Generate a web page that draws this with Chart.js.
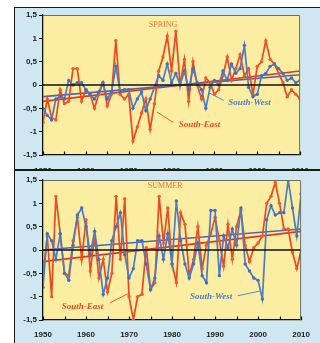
<!DOCTYPE html>
<html>
<head>
<meta charset="utf-8">
<script src="https://cdn.jsdelivr.net/npm/chart.js@4.4.1/dist/chart.umd.min.js"></script>
<style>
  body { margin: 0; background: #fff; width: 320px; height: 343px; overflow: hidden; position: relative; }
  #frame { position: absolute; left: 14px; top: 7px; width: 330px; height: 350px; background: #cfe7f1;
           border-left: 1.5px solid #1a1a1a; border-top: 1.5px solid #1a1a1a; }
  #sep { position: absolute; left: 14px; top: 169px; width: 310px; height: 1.5px; background: #1a1a1a; }
  canvas { position: absolute; left: 0; }
</style>
</head>
<body>
<div id="frame"></div>
<canvas id="spring" width="320" height="169" style="top:0"></canvas>
<div id="sep"></div>
<canvas id="summer" width="320" height="173" style="top:170px"></canvas>
<script>
  const years = [
    1950, 1951, 1952, 1953, 1954, 1955, 1956, 1957, 1958, 1959,
    1960, 1961, 1962, 1963, 1964, 1965, 1966, 1967, 1968, 1969,
    1970, 1971, 1972, 1973, 1974, 1975, 1976, 1977, 1978, 1979,
    1980, 1981, 1982, 1983, 1984, 1985, 1986, 1987, 1988, 1989,
    1990, 1991, 1992, 1993, 1994, 1995, 1996, 1997, 1998, 1999,
    2000, 2001, 2002, 2003, 2004, 2005, 2006, 2007, 2008, 2009,
    2010
  ];
  const decadeTicks = [1950, 1960, 1970, 1980, 1990, 2000, 2010];
  const minorTicks = [1950, 1955, 1960, 1965, 1970, 1975, 1980, 1985, 1990, 1995, 2000, 2005, 2010];
  const valueTicks = [-1.5, -1, -0.5, 0, 0.5, 1, 1.5];
  const trendYears = [1950, 2010];

  // spring anomalies
  const springSouthEast = [
    -0.8, -0.3, -0.7, -0.75, -0.1, -0.4, -0.35, 0.35, 0.35, -0.35,
    -0.1, -0.2, -0.5, -0.2, 0.05, -0.45, -0.2, 0.95, -0.2, -0.3,
    -0.2, -1.2, -0.9, -0.6, -0.3, -0.95, -0.4, 0.3, 0.6, 1.05,
    0.3, 1.15, 0.0, 0.55, -0.35, 0.5, 0.0, -0.3, 0.15, 0.05,
    -0.2, -0.1, 0.2, 0.6, 0.1, 0.35, 0.65, 0.2, 0.35, -0.2,
    0.4, 0.5, 0.95, 0.55, 0.45, 0.25, 0.05, -0.25, -0.1, -0.2,
    -0.3
  ];
  const springSouthWest = [
    -0.5, -0.65, -0.75, -0.3, -0.25, -0.3, 0.1, 0.0, 0.05, 0.05,
    -0.1, -0.2, -0.3, -0.15, 0.05, -0.3, -0.15, 0.4, -0.15, -0.1,
    -0.1, -0.5, -0.3, -0.15, -0.55, -0.3, -0.05, 0.2, 0.1, 0.45,
    0.05, 0.25, 0.0, 0.3, -0.1, 0.35, 0.05, -0.1, -0.5, -0.05,
    0.1, 0.0, 0.3, 0.1, 0.45, 0.25, 0.35, 0.85, -0.05, -0.25,
    -0.2, 0.2, 0.25, 0.4, 0.45, 0.35, 0.25, 0.1, 0.15, 0.05,
    0.1
  ];
  const springTrendSouthEast = [-0.35, 0.3];
  const springTrendSouthWest = [-0.25, 0.22];

  // summer anomalies
  const summerSouthEast = [
    -0.5, 0.3, -1.0, 1.15, 0.35, -0.5, -0.55, 0.2, 0.7, -0.2,
    0.65, -0.45, 0.3, -0.6, -0.2, -0.9, -0.5, 1.15, -0.2, 1.1,
    -1.0, -1.5, -1.0, -0.95, 0.05, -0.85, -0.7, 1.15, 0.15, 0.9,
    -0.3, -0.7, 0.8, 0.55, -0.55, -0.2, 0.5, -0.4, 0.1, 0.35,
    0.7, 0.2, -0.35, 0.55, -0.2, 0.5, 0.85, 0.1, -0.25, 0.05,
    0.15, 0.3, 1.0, 1.15, 1.45, 1.0, 0.45, 0.45, -0.05, -0.4,
    0.0
  ];
  const summerSouthWest = [
    -0.8, 0.35, 0.2, -0.2, 0.35, -0.5, -0.65, 0.1, 0.75, 0.9,
    0.5, -0.1, 0.4, -0.2, -0.95, -0.6, 0.2, 0.5, 0.8, -0.1,
    -0.6, -0.4, 0.2, 0.2, -0.3, -0.85, -0.6, 0.3, -0.2, 0.35,
    -0.3, 1.05, 0.2, -0.3, -0.6, -0.3, 0.15, -0.55, -0.7, 0.85,
    0.85, -0.55, 0.3, 0.05, 0.45, 0.1, 0.9, -0.3, -0.45, -0.6,
    -0.65, -1.05, 0.65, 0.95, 0.75, 0.8, 0.8, 1.5, 0.9, 0.3,
    1.2
  ];
  const summerTrendSouthEast = [-0.25, 0.4];
  const summerTrendSouthWest = [0.0, 0.45];

  const RED = "#ee4820";
  const BLUE = "#4b7cc4";

  function points(xs, ys) {
    return xs.map((x, i) => ({ x: x, y: ys[i] }));
  }

  function seriesSet(se, sw, trendSe, trendSw) {
    return [
      { data: points(years, sw), borderColor: BLUE, backgroundColor: "#4470bb", borderWidth: 1.7, pointRadius: 1.7, pointBorderWidth: 0 },
      { data: points(years, se), borderColor: RED, backgroundColor: "#f25a28", borderWidth: 1.7, pointRadius: 1.7, pointBorderWidth: 0 },
      { data: points(trendYears, trendSw), borderColor: "#4a66b6", borderWidth: 1.6, pointRadius: 0 },
      { data: points(trendYears, trendSe), borderColor: "#e2361c", borderWidth: 1.6, pointRadius: 0 },
    ];
  }

  const panelDecor = {
    id: "panelDecor",
    beforeDraw(chart) {
      const a = chart.chartArea;
      const ctx = chart.ctx;
      ctx.save();
      ctx.fillStyle = "#fbeea2";
      ctx.fillRect(a.left, a.top, a.right - a.left, a.bottom - a.top);
      ctx.restore();
    },
    afterDatasetsDraw(chart) {
      const a = chart.chartArea;
      const ctx = chart.ctx;
      const x = chart.scales.x;
      const y = chart.scales.y;
      ctx.save();
      // zero line
      ctx.strokeStyle = "#111";
      ctx.lineWidth = 1.4;
      ctx.beginPath();
      ctx.moveTo(a.left, y.getPixelForValue(0));
      ctx.lineTo(a.right, y.getPixelForValue(0));
      ctx.stroke();
      // top and right frame
      ctx.strokeStyle = "#6d6d66";
      ctx.lineWidth = 1;
      ctx.beginPath();
      ctx.moveTo(a.left, a.top + 0.5);
      ctx.lineTo(a.right - 0.5, a.top + 0.5);
      ctx.lineTo(a.right - 0.5, a.bottom);
      ctx.stroke();
      // inward ticks on the time axis
      ctx.strokeStyle = "#111";
      ctx.lineWidth = 1.2;
      minorTicks.forEach((yr) => {
        const px = Math.round(x.getPixelForValue(yr)) + 0.5;
        ctx.beginPath();
        ctx.moveTo(px, a.bottom);
        ctx.lineTo(px, a.bottom - 3.5);
        ctx.stroke();
      });
      ctx.restore();
    },
    afterDraw(chart, args, opts) {
      const x = chart.scales.x;
      const y = chart.scales.y;
      const ctx = chart.ctx;
      ctx.save();
      ctx.textAlign = "center";
      ctx.textBaseline = "middle";
      (opts.notes || []).forEach((n) => {
        if (n.from) {
          ctx.strokeStyle = n.color;
          ctx.lineWidth = 0.9;
          ctx.beginPath();
          ctx.moveTo(x.getPixelForValue(n.from[0]), y.getPixelForValue(n.from[1]));
          ctx.lineTo(x.getPixelForValue(n.to[0]), y.getPixelForValue(n.to[1]));
          ctx.stroke();
        }
        ctx.font = n.font;
        ctx.fillStyle = n.color;
        ctx.fillText(n.text, x.getPixelForValue(n.at[0]), y.getPixelForValue(n.at[1]));
      });
      ctx.restore();
    },
  };

  function makePanel(id, datasets, padTop, axisHeight, labelPad, notes) {
    return new Chart(document.getElementById(id), {
      type: "line",
      data: { datasets: datasets },
      plugins: [panelDecor],
      options: {
        responsive: false,
        animation: false,
        devicePixelRatio: 1,
        layout: { padding: { top: padTop, right: 9, left: 0, bottom: 0 } },
        plugins: {
          legend: { display: false },
          tooltip: { enabled: false },
          panelDecor: { notes: notes },
        },
        scales: {
          x: {
            type: "linear",
            min: 1950,
            max: 2010,
            afterFit: (s) => { s.height = axisHeight; },
            afterBuildTicks: (s) => { s.ticks = decadeTicks.map((v) => ({ value: v })); },
            grid: { display: false, drawTicks: false },
            border: { display: true, color: "#111", width: 1.3 },
            ticks: {
              autoSkip: false,
              maxRotation: 0,
              padding: labelPad,
              color: "#222",
              font: { family: "Liberation Sans", size: 8, weight: "bold" },
              callback: (v) => String(v),
            },
          },
          y: {
            min: -1.5,
            max: 1.5,
            afterFit: (s) => { s.width = 43; },
            afterBuildTicks: (s) => { s.ticks = valueTicks.map((v) => ({ value: v })); },
            grid: { drawOnChartArea: false, drawTicks: true, tickLength: 4, color: "#111", lineWidth: 1 },
            border: { display: true, color: "#111", width: 1.3 },
            ticks: {
              autoSkip: false,
              padding: 2,
              color: "#222",
              font: { family: "Liberation Sans", size: 8, weight: "bold" },
              callback: (v) => String(v).replace(".", ","),
            },
          },
        },
      },
    });
  }

  const serifNote = 'italic bold 9px "Liberation Serif"';
  const titleNote = '8px "Liberation Serif"';

  makePanel("spring", seriesSet(springSouthEast, springSouthWest, springTrendSouthEast, springTrendSouthWest), 15, 14, 11, [
    { text: "SPRING", at: [1978, 1.29], color: "#e07a30", font: titleNote },
    { text: "South-East", at: [1986.5, -0.86], color: RED, font: serifNote, from: [1976.6, -0.58], to: [1980.4, -0.8] },
    { text: "South-West", at: [1998.2, -0.37], color: BLUE, font: serifNote, from: [1988.8, -0.17], to: [1992.2, -0.33] },
  ]);

  makePanel("summer", seriesSet(summerSouthEast, summerSouthWest, summerTrendSouthEast, summerTrendSouthWest), 10, 23, 10, [
    { text: "SUMMER", at: [1978.4, 1.37], color: "#e07a30", font: titleNote },
    { text: "South-East", at: [1959.2, -1.22], color: RED, font: serifNote, from: [1965.6, -1.13], to: [1970.1, -0.92] },
    { text: "South-West", at: [1989.1, -1.0], color: BLUE, font: serifNote, from: [1995.3, -0.98], to: [2000.4, -0.88] },
  ]);
</script>
</body>
</html>
